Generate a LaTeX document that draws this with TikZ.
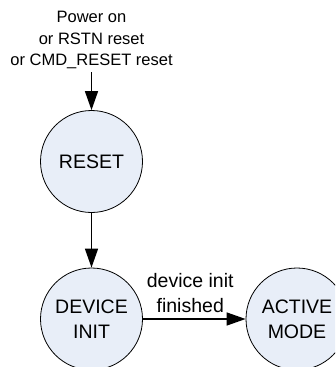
\documentclass[tikz,border=0pt]{standalone}
\usepackage{fontspec}
\setmainfont{Liberation Sans}
\usetikzlibrary{arrows.meta}
\begin{document}
\begin{tikzpicture}[x=1pt, y=-1pt,
    state/.style={circle, draw, line width=0.8pt, fill=stateblue,
      minimum size=102pt, inner sep=0pt, align=center,
      font=\fontsize{19.5}{25}\selectfont},
    trans/.style={line width=1.5pt, -{Triangle[length=19pt,width=13pt]}}]
        \definecolor{stateblue}{RGB}{232,238,248}
        \useasboundingbox (0,0) rectangle (335,367);
        \clip (0,0) rectangle (335,367);

        \node [align=center, font=\fontsize{16.5}{21.5}\selectfont] (cause) at (91.5,40)
          {Power on\\or RSTN reset\\or CMD\_RESET reset};

        \node [state] (reset) at (91.5,161.5) {RESET};
        \node [state] (devinit) at (91.5,319) {DEVICE\\INIT};
        \node [state] (active) at (297,319) {ACTIVE\\MODE};

        \draw [trans] (cause) -- (reset);
        \draw [trans] (reset) -- (devinit);
        \draw [trans] (devinit) -- (active)
          node [midway, above, align=center, xshift=-4pt, yshift=2pt,
            font=\fontsize{19.5}{25}\selectfont] (lbl) {device init\\finished};
      \end{tikzpicture}
\end{document}
